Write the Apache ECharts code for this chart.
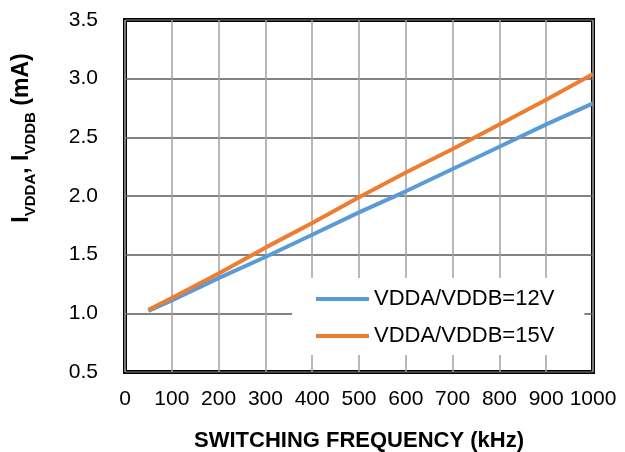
<!DOCTYPE html>
<html>
<head>
<meta charset="utf-8">
<script src="https://cdn.jsdelivr.net/npm/echarts@6/dist/echarts.min.js"></script>
<style>
  html, body { margin: 0; padding: 0; background: #fff; }
  #chart { width: 625px; height: 452px; }
</style>
</head>
<body>
<div id="chart"></div>
<script>
// switching frequency (kHz)
const freq = [50, 100, 200, 300, 400, 500, 600, 700, 800, 900, 1000]
// supply current (mA)
const current12V = [1.02, 1.11, 1.30, 1.48, 1.67, 1.86, 2.04, 2.23, 2.42, 2.61, 2.79]
const current15V = [1.03, 1.13, 1.34, 1.56, 1.77, 1.99, 2.20, 2.40, 2.61, 2.82, 3.04]
const seriesNames = ['VDDA/VDDB=12V', 'VDDA/VDDB=15V']

const font = 'Liberation Sans, Arial, sans-serif'
const chart = echarts.init(document.getElementById('chart'))

function pairs(xs, ys) {
  return xs.map((x, i) => [x, ys[i]])
}

chart.setOption({
  backgroundColor: '#fff',
  animation: false,
  grid: {
    left: 125,
    right: 32,
    top: 20,
    bottom: 80,
    outerBoundsMode: 'none',
    show: true,
    borderColor: '#000',
    borderWidth: 4,
    backgroundColor: 'transparent'
  },
  legend: {
    left: 292,
    top: 278,
    orient: 'vertical',
    backgroundColor: '#fff',
    padding: [9, 30, 7, 24],
    itemGap: 13,
    itemWidth: 53,
    itemHeight: 4,
    icon: 'rect',
    textStyle: { fontFamily: font, fontSize: 22, lineHeight: 24, color: '#000' },
    data: seriesNames
  },
  xAxis: {
    type: 'value',
    min: 0,
    max: 1000,
    interval: 100,
    name: 'SWITCHING FREQUENCY (kHz)',
    nameLocation: 'middle',
    nameGap: 58,
    nameTextStyle: { fontFamily: font, fontSize: 22, fontWeight: 'bold', color: '#000' },
    axisLine: { show: false },
    axisTick: { show: false },
    axisLabel: { fontFamily: font, fontSize: 21, color: '#000', margin: 17, formatter: v => String(v) },
    splitLine: { show: true, lineStyle: { color: '#a0a0a0', width: 1.5 } }
  },
  yAxis: {
    type: 'value',
    min: 0.5,
    max: 3.5,
    interval: 0.5,
    name: '{b|I}{s|VDDA}{b|, I}{s|VDDB}{b| (mA)}',
    nameLocation: 'middle',
    nameRotate: 90,
    nameGap: 92,
    nameTextStyle: {
      fontFamily: font,
      fontWeight: 'bold',
      color: '#000',
      padding: [0, 0, 0, 116],
      rich: {
        b: { fontFamily: font, fontSize: 23, fontWeight: 'bold', color: '#000', verticalAlign: 'bottom', lineHeight: 28 },
        s: { fontFamily: font, fontSize: 15, fontWeight: 'bold', color: '#000', verticalAlign: 'bottom', lineHeight: 28, padding: [0, 0, -5, 0] }
      }
    },
    axisLine: { show: false },
    axisTick: { show: false },
    axisLabel: {
      fontFamily: font,
      fontSize: 21,
      color: '#000',
      margin: 27,
      formatter: v => v.toFixed(1)
    },
    splitLine: { show: true, lineStyle: { color: '#5a5a5a', width: 1.5 } }
  },
  series: [
    {
      name: seriesNames[0],
      type: 'line',
      data: pairs(freq, current12V),
      showSymbol: false,
      color: '#5b9bd5',
      lineStyle: { width: 4, color: '#5b9bd5' },
      z: 3
    },
    {
      name: seriesNames[1],
      type: 'line',
      data: pairs(freq, current15V),
      showSymbol: false,
      color: '#ed7d31',
      lineStyle: { width: 4, color: '#ed7d31' },
      z: 4
    }
  ]
})
</script>
</body>
</html>
